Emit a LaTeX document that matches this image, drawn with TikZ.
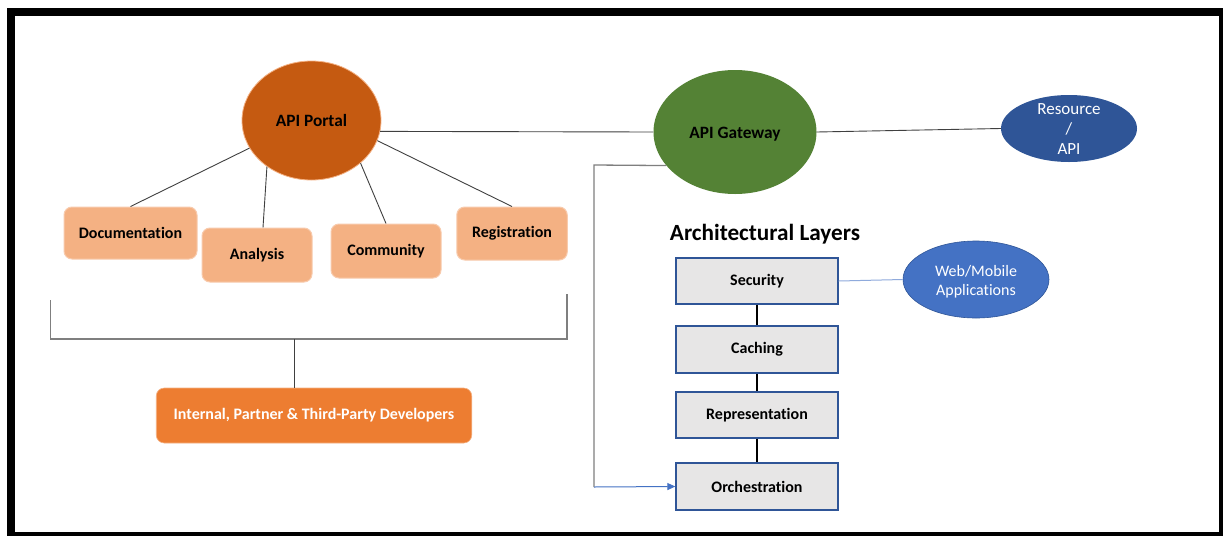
\documentclass[tikz,border=0pt]{standalone}
\usepackage{fontspec}
\setmainfont{Carlito}[Ligatures=NoCommon]
\usetikzlibrary{shapes.geometric,arrows.meta}
\definecolor{portalfill}{HTML}{C55A11}
\definecolor{lightorange}{HTML}{F4B183}
\definecolor{paleorange}{HTML}{F8CBAD}
\definecolor{devfill}{HTML}{ED7D31}
\definecolor{gwfill}{HTML}{548235}
\definecolor{resfill}{HTML}{2F5597}
\definecolor{webfill}{HTML}{4472C4}
\definecolor{layerfill}{HTML}{E7E6E6}
\definecolor{layerdraw}{HTML}{2F5597}
\definecolor{paleblue}{HTML}{8FAADC}
\definecolor{connect}{HTML}{404040}
\definecolor{bracket}{HTML}{7F7F7F}
\tikzset{
  oval/.style={ellipse, inner sep=0pt},
  feature/.style={rectangle, rounded corners=8pt, fill=lightorange, draw=paleorange, line width=1pt,
    minimum width=110pt, minimum height=54pt, font=\fontsize{16}{19}\selectfont\bfseries},
  layer/.style={rectangle, fill=layerfill, draw=layerdraw, line width=1.3pt,
    minimum width=162pt, minimum height=46pt, font=\fontsize{16}{19}\selectfont\bfseries},
  link/.style={draw=connect, line width=0.9pt},
  stack/.style={draw=black, line width=1.5pt},
}
\begin{document}
\begin{tikzpicture}[x=1pt,y=-1pt]
\useasboundingbox (0,0) rectangle (1223,536);
\fill[white] (0,0) rectangle (1223,536);
\fill[black] (7,8) rectangle (1223,536);
\fill[white] (15,16) rectangle (1219,532);

% portal side
\node[oval, fill=portalfill, draw=lightorange, line width=0.8pt, minimum width=139pt, minimum height=119pt,
  font=\fontsize{17.3}{20}\selectfont\bfseries] (portal) at (311.5,120.5) {API Portal};
\node[feature, minimum width=133pt, minimum height=52pt] (doc) at (130.5,233) {Documentation};
\node[feature] (analysis) at (257,255) {Analysis};
\node[feature] (community) at (386,251) {Community};
\node[feature, minimum width=110.5pt, minimum height=53pt] (registration) at (512,233.5) {Registration};
\node[rectangle, rounded corners=8pt, fill=devfill, draw=lightorange, line width=0.6pt,
  minimum width=315.5pt, minimum height=55pt, text=white,
  font=\fontsize{16}{19}\selectfont\bfseries] (dev) at (314,415.5) {Internal, Partner \& Third-Party Developers};

\draw[link] (doc.north) -- (portal.204);
\draw[link] ([xshift=6pt]analysis.north) -- (portal.226);
\draw[link] (community.north) -- (portal.319);
\draw[link] (registration.north) -- (portal.343);

\coordinate (brLt) at (50.6,300);
\coordinate (brLb) at (50.6,339);
\coordinate (brRb) at (567,339);
\coordinate (brRt) at (567,294);
\coordinate (brmid) at (294,339);
\draw[draw=bracket, line width=1.5pt] (brLt) -- (brLb) -- (brRb) -- (brRt);
\draw[draw=connect, line width=0.9pt] (brmid) -- (brmid |- dev.north);

% gateway side
\node[oval, fill=gwfill, minimum width=163pt, minimum height=124pt] (gateway) at (735,132) {};
\node[font=\fontsize{17.3}{20}\selectfont\bfseries] (gwlabel) at (735,134.5) {API Gateway};
\node[oval, fill=resfill, minimum width=136pt, minimum height=67pt, text=white, align=center,
  font=\fontsize{17}{20}\selectfont] (resource) at (1069,128.5) {};
\node[text=white, align=center, font=\fontsize{17}{20}\selectfont] (reslabel) at (1069,129.5) {Resource\\/\\API};

\draw[link] (portal.351) -- (gateway.west);
\draw[link] (gateway.east) -- (resource.west);

\node[font=\fontsize{23.2}{27}\selectfont\bfseries] (heading) at (765,234) {Architectural Layers};

\node[layer] (security) at (757,281) {Security};
\node[layer, minimum height=47pt] (caching) at (757,349.5) {Caching};
\node[layer] (repr) at (757,415) {Representation};
\node[layer, minimum height=47pt] (orch) at (757,486.5) {Orchestration};

\node[oval, fill=webfill, draw=layerdraw, line width=0.6pt, minimum width=146pt, minimum height=77pt] (web) at (976,279.5) {};
\node[text=white, align=center, font=\fontsize{16}{18.5}\selectfont] (weblabel) at (976,281.5) {Web/Mobile\\Applications};

\draw[draw=paleblue, line width=1pt] (security.east) -- (web.west);
\draw[stack] (security.south) -- (caching.north);
\draw[stack] (caching.south) -- (repr.north);
\draw[stack] (repr.south) -- (orch.north);

\coordinate (bendA) at (594,165);
\coordinate (bendB) at (594,487);
\draw[draw=bracket, line width=1.3pt] (gateway.206) -- (bendA) -- (bendB);
\draw[draw=webfill, line width=1pt, -{Triangle[length=8pt,width=7pt]}] (bendB) -- (orch.west);
\end{tikzpicture}
\end{document}
